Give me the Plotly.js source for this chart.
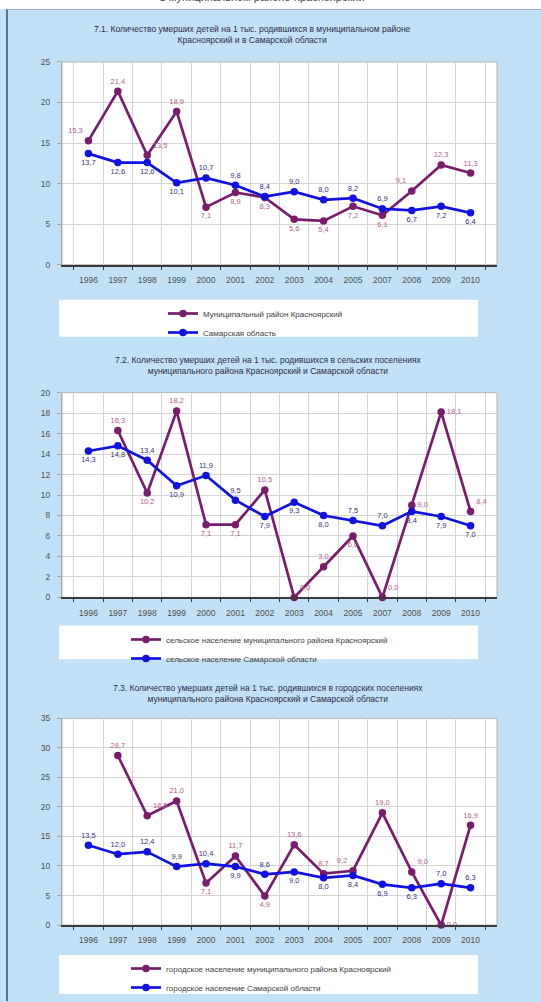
<!DOCTYPE html>
<html>
<head>
<meta charset="utf-8">
<script src="https://cdn.plot.ly/plotly-3.0.1.min.js"></script>
<style>
html,body{margin:0;padding:0;background:#fff;}
#chart{width:541px;height:1002px;}
</style>
</head>
<body>
<div id="chart"></div>
<script>
// ---------- DATA ----------
const years = ['1996','1997','1998','1999','2000','2001','2002','2003','2004','2005','2007','2008','2009','2010'];

// 7.1
const c1Title = '7.1. Количество умерших детей на 1 тыс. родившихся в муниципальном районе<br>Красноярский и в Самарской области';
const c1NameA = 'Муниципальный район Красноярский';
const c1NameB = 'Самарская область';
const c1A = [15.3, 21.4, 13.5, 18.9, 7.1, 8.9, 8.3, 5.6, 5.4, 7.2, 6.1, 9.1, 12.3, 11.3];
const c1B = [13.7, 12.6, 12.6, 10.1, 10.7, 9.8, 8.4, 9.0, 8.0, 8.2, 6.9, 6.7, 7.2, 6.4];

// 7.2
const c2Title = '7.2. Количество умерших детей на 1 тыс. родившихся в сельских поселениях<br>муниципального района Красноярский и Самарской области';
const c2NameA = 'сельское население муниципального района Красноярский';
const c2NameB = 'сельское население Самарской области';
const c2A = [null, 16.3, 10.2, 18.2, 7.1, 7.1, 10.5, 0.0, 3.0, 6.0, 0.0, 9.0, 18.1, 8.4];
const c2B = [14.3, 14.8, 13.4, 10.9, 11.9, 9.5, 7.9, 9.3, 8.0, 7.5, 7.0, 8.4, 7.9, 7.0];

// 7.3
const c3Title = '7.3. Количество умерших детей на 1 тыс. родившихся в городских поселениях<br>муниципального района Красноярский и Самарской области';
const c3NameA = 'городское население муниципального района Красноярский';
const c3NameB = 'городское население Самарской области';
const c3A = [null, 28.7, 18.5, 21.0, 7.1, 11.7, 4.9, 13.6, 8.7, 9.2, 19.0, 9.0, 0.0, 16.9];
const c3B = [13.5, 12.0, 12.4, 9.9, 10.4, 9.9, 8.6, 9.0, 8.0, 8.4, 6.9, 6.3, 7.0, 6.3];

const topHeading = 'в муниципальном районе Красноярский';

// ---------- STYLE ----------
const T='top center', B='bottom center', TL='top left', TR='top right', R='middle right', BL='bottom left', BR='bottom right';
const c1PosA = [TL, T, TR, T, B, B, B, B, B, B, B, TL, T, T];
const c1PosB = [B, B, B, B, T, T, T, T, T, T, T, B, B, B];
const c2PosA = [T, T, B, T, B, B, T, TR, T, B, TR, R, R, TR];
const c2PosB = [B, B, T, B, T, T, B, B, B, T, T, B, B, B];
const c3PosA = [T, T, TR, T, B, T, B, T, T, TL, T, TR, R, T];
const c3PosB = [T, T, T, T, T, B, T, B, B, B, B, B, T, T];

const W = 541, H = 1002;
const px = x => x / W;
const py = y => 1 - y / H;

const PURPLE = '#7a1c6c';
const BLUE = '#1212e0';
const PURPLE_TXT = '#b2608e';
const BLUE_TXT = '#34347a';
const FONT = 'Liberation Sans, Arial, sans-serif';

const plotL = 62, plotR = 497;
const charts = [
  {top: 62, bot: 265, max: 25, dtick: 5, A: c1A, B: c1B, nA: c1NameA, nB: c1NameB, pA: c1PosA, pB: c1PosB,
   title: c1Title, titleX: 252, titleY: 35, legTop: 300, legBot: 337, legX: 163},
  {top: 393, bot: 598, max: 20, dtick: 2, A: c2A, B: c2B, nA: c2NameA, nB: c2NameB, pA: c2PosA, pB: c2PosB,
   title: c2Title, titleX: 268, titleY: 366, legTop: 626, legBot: 660, legX: 126},
  {top: 719, bot: 926, max: 35, dtick: 5, A: c3A, B: c3B, nA: c3NameA, nB: c3NameB, pA: c3PosA, pB: c3PosB,
   title: c3Title, titleX: 268, titleY: 694, legTop: 956, legBot: 995, legX: 126}
];

const data = [];
const layout = {
  width: W, height: H,
  margin: {l: 0, r: 0, t: 0, b: 0},
  paper_bgcolor: '#c2e1f6',
  plot_bgcolor: '#ffffff',
  separators: ', ',
  font: {family: FONT, size: 8, color: '#505050'},
  showlegend: true,
  shapes: [],
  annotations: []
};

// top white strip and panel border
layout.shapes.push({type: 'rect', xref: 'paper', yref: 'paper', x0: 0, x1: 1, y0: py(9), y1: 1,
  fillcolor: '#ffffff', line: {width: 0}, layer: 'below'});
layout.shapes.push({type: 'line', xref: 'paper', yref: 'paper', x0: px(7), x1: px(7), y0: 0, y1: py(9),
  line: {color: '#5a7088', width: 2}});
layout.shapes.push({type: 'line', xref: 'paper', yref: 'paper', x0: px(7), x1: 1, y0: py(9.5), y1: py(9.5),
  line: {color: '#9ab0c4', width: 1}});
layout.annotations.push({text: topHeading, xref: 'paper', yref: 'paper', x: px(262), y: py(-3), xanchor: 'center',
  yanchor: 'middle', showarrow: false, font: {family: FONT, size: 11, color: '#444444'}});

charts.forEach((c, i) => {
  const n = i === 0 ? '' : String(i + 1);
  const xa = 'x' + n, ya = 'y' + n;
  const leg = 'legend' + n;
  data.push({
    x: years, y: c.A, name: c.nA, type: 'scatter', mode: 'lines+markers+text',
    xaxis: xa, yaxis: ya, legend: leg,
    line: {color: PURPLE, width: 2.7}, marker: {color: PURPLE, size: 7.5},
    texttemplate: '%{y:.1f}', textposition: c.pA,
    textfont: {family: FONT, size: 7.5, color: PURPLE_TXT},
    cliponaxis: false, connectgaps: false, hoverinfo: 'skip'
  });
  data.push({
    x: years, y: c.B, name: c.nB, type: 'scatter', mode: 'lines+markers+text',
    xaxis: xa, yaxis: ya, legend: leg,
    line: {color: BLUE, width: 2.7}, marker: {color: BLUE, size: 7.5},
    texttemplate: '%{y:.1f}', textposition: c.pB,
    textfont: {family: FONT, size: 7.5, color: BLUE_TXT},
    cliponaxis: false, hoverinfo: 'skip'
  });
  layout['xaxis' + n] = {
    domain: [px(plotL), px(plotR)], anchor: ya, type: 'category',
    tickson: 'boundaries', showgrid: true, gridcolor: '#d4d4d4', gridwidth: 1,
    showline: true, linecolor: '#3a3a3a', linewidth: 2,
    ticks: 'outside', ticklen: 3, tickcolor: '#3a3a3a', ticklabelstandoff: 6,
    tickfont: {family: FONT, size: 8.5, color: '#505050'}, fixedrange: true
  };
  layout['yaxis' + n] = {
    domain: [py(c.bot), py(c.top)], anchor: xa, range: [0, c.max], dtick: c.dtick,
    showgrid: true, gridcolor: '#d4d4d4', gridwidth: 1, zeroline: false,
    showline: true, linecolor: '#a8a8a8', linewidth: 1,
    ticks: 'outside', ticklen: 4, tickcolor: '#a8a8a8', ticklabelstandoff: 5,
    tickfont: {family: FONT, size: 8.5, color: '#505050'}, fixedrange: true
  };
  // plot frame top/right
  layout.shapes.push({type: 'rect', xref: 'paper', yref: 'paper', x0: px(plotL), x1: px(plotR),
    y0: py(c.bot), y1: py(c.top), line: {color: '#b4b4b4', width: 1}, fillcolor: 'rgba(0,0,0,0)', layer: 'below'});
  // legend box
  layout.shapes.push({type: 'rect', xref: 'paper', yref: 'paper', x0: px(59), x1: px(478),
    y0: py(c.legBot), y1: py(c.legTop), fillcolor: '#ffffff', line: {width: 0}, layer: 'below'});
  layout[leg] = {
    x: px(c.legX), y: py(c.legTop - 1), xanchor: 'left', yanchor: 'top',
    bgcolor: 'rgba(0,0,0,0)', borderwidth: 0, itemwidth: 30,
    font: {family: FONT, size: 8, color: '#404040'}, tracegroupgap: 0
  };
  layout.annotations.push({text: c.title, xref: 'paper', yref: 'paper', x: px(c.titleX), y: py(c.titleY),
    xanchor: 'center', yanchor: 'middle', showarrow: false, align: 'center',
    font: {family: FONT, size: 8.5, color: '#2c2c48'}});
});

Plotly.newPlot('chart', data, layout, {displayModeBar: false, staticPlot: true});
</script>
</body>
</html>
